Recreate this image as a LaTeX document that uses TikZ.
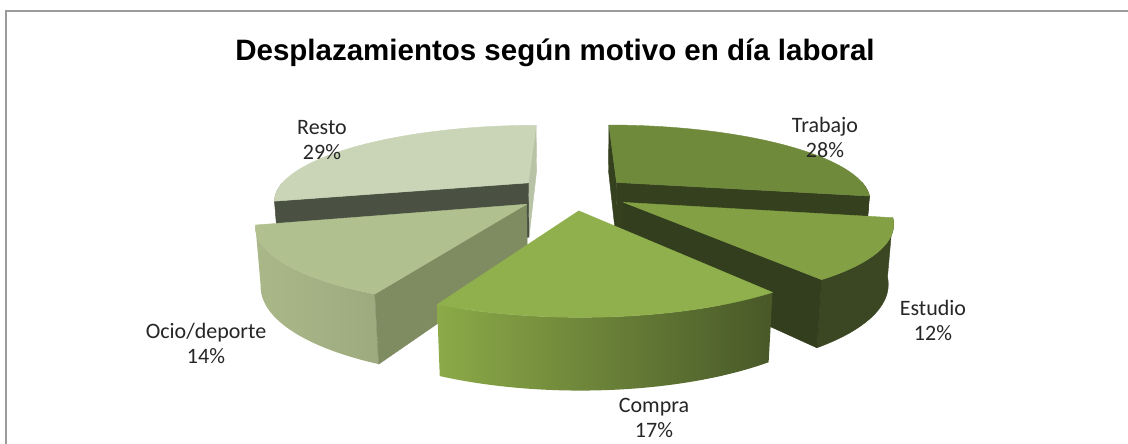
\documentclass[tikz,border=0pt]{standalone}
\usepackage{fontspec}
\setmainfont{Carlito}
\newfontfamily\titlefont{Liberation Sans}
\definecolor{trTop}{RGB}{112,138,60}
\definecolor{trDark}{RGB}{52,64,30}
\definecolor{esTop}{RGB}{131,160,68}
\definecolor{esSide}{RGB}{58,71,34}
\definecolor{esRad}{RGB}{50,62,30}
\definecolor{coTop}{RGB}{143,176,76}
\definecolor{coL}{RGB}{140,170,72}
\definecolor{coR}{RGB}{72,88,40}
\definecolor{ocTop}{RGB}{176,192,143}
\definecolor{ocSideL}{RGB}{170,184,137}
\definecolor{ocSideR}{RGB}{156,170,126}
\definecolor{ocRad}{RGB}{127,140,98}
\definecolor{reTop}{RGB}{201,213,182}
\definecolor{reDark}{RGB}{75,81,66}
\definecolor{reStrip}{RGB}{184,194,164}
\definecolor{frameGray}{RGB}{155,155,155}
\definecolor{txt}{RGB}{38,38,38}
\newcommand\setapex[1]{\pgfmathsetmacro\pax{0.23*cos(#1)}\pgfmathsetmacro\pay{0.23*sin(#1)}}
\newcommand\topface[3]{\path[#3] ({PX(\pax,\pay,0)},{PY(\pax,\pay,0)}) -- plot[domain=#1:#2,samples=60,variable=\t] ({PX(\pax+cos(\t),\pay+sin(\t),0)},{PY(\pax+cos(\t),\pay+sin(\t),0)}) -- cycle;}
\newcommand\outerface[3]{\path[#3] plot[domain=#1:#2,samples=40,variable=\t] ({PX(\pax+cos(\t),\pay+sin(\t),0)},{PY(\pax+cos(\t),\pay+sin(\t),0)}) -- plot[domain=#2:#1,samples=40,variable=\t] ({PX(\pax+cos(\t),\pay+sin(\t),-0.234)},{PY(\pax+cos(\t),\pay+sin(\t),-0.234)}) -- cycle;}
\newcommand\radialface[2]{\path[#2] ({PX(\pax,\pay,0)},{PY(\pax,\pay,0)}) -- ({PX(\pax+cos(#1),\pay+sin(#1),0)},{PY(\pax+cos(#1),\pay+sin(#1),0)}) -- ({PX(\pax+cos(#1),\pay+sin(#1),-0.234)},{PY(\pax+cos(#1),\pay+sin(#1),-0.234)}) -- ({PX(\pax,\pay,-0.234)},{PY(\pax,\pay,-0.234)}) -- cycle;}
\begin{document}
\begin{tikzpicture}[x=1pt,y=-1pt,
  declare function={
    PX(\x,\y,\z)=573+253.4*\x*4.39/(4.39+\y*0.9563-\z*0.2924);
    PY(\x,\y,\z)=193-253.4*(\y*0.2924+\z*0.9563)*4.39/(4.39+\y*0.9563-\z*0.2924);
  },
  face/.style={fill=#1, draw=#1, line width=0.4pt, line join=round},
  hface/.style 2 args={left color=#1, right color=#2},
  lab/.style={text=txt, align=center, font=\fontsize{22}{25}\selectfont},
  frameline/.style={draw=frameGray, line width=2pt}
]
\useasboundingbox (0,0) rectangle (1128,444);
\fill[white] (0,0) rectangle (1128,444);
\draw[frameline] (6,444) -- (6,11.5) -- (1128,11.5);

% Trabajo (90 -> -10.8)
\setapex{39.6}
\outerface{-10.8}{0}{face=trDark}
\radialface{90}{face=trDark}
\radialface{-10.8}{face=trDark}
\topface{90}{-10.8}{face=trTop}

% Resto (90 -> 194.4)
\setapex{142.2}
\outerface{180}{194.4}{face=reTop!80!black}
\radialface{90}{face=reStrip}
\radialface{194.4}{face=reDark}
\topface{90}{194.4}{face=reTop}

% Estudio (-10.8 -> -54)
\setapex{-32.4}
\outerface{-54}{-10.8}{face=esSide}
\radialface{-54}{face=esRad}
\topface{-10.8}{-54}{face=esTop}

% Ocio/deporte (-115.2 -> -165.6)
\setapex{-140.4}
\outerface{-165.6}{-115.2}{hface={ocSideL}{ocSideR}}
\radialface{-115.2}{face=ocRad}
\topface{-115.2}{-165.6}{face=ocTop}

% Compra (-54 -> -115.2)
\setapex{-84.6}
\outerface{-115.2}{-54}{hface={coL}{coR}}
\topface{-54}{-115.2}{face=coTop}

\node (title) at (555,53) {\titlefont\bfseries\fontsize{29.5}{34}\selectfont Desplazamientos según motivo en día laboral};
\node[lab] (resto) at (322,140) {Resto\\29\%};
\node[lab] (trabajo) at (825,137) {Trabajo\\28\%};
\node[lab] (estudio) at (933,320) {Estudio\\12\%};
\node[lab] (compra) at (654,418) {Compra\\17\%};
\node[lab] (ocio) at (206,343) {Ocio/deporte\\14\%};
\end{tikzpicture}
\end{document}
